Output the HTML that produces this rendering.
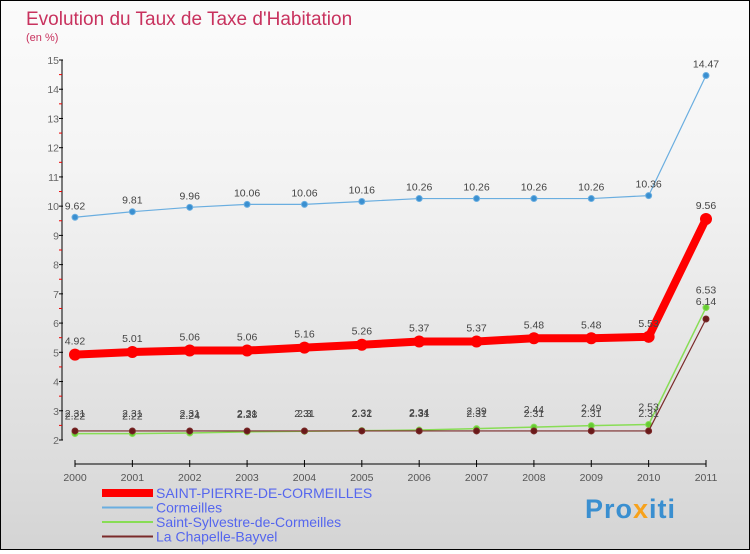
<!DOCTYPE html>
<html><head><meta charset="utf-8"><style>
body{margin:0;width:750px;height:550px;overflow:hidden;font-family:"Liberation Sans",sans-serif}
#wrap{position:relative;width:748px;height:548px;border:1px solid #000;background:linear-gradient(#fbfbfb,#f4f4f4 30%,#dcdcdc 85%,#d4d4d4)}
</style></head><body>
<div id="wrap">
<svg id="chart" width="748" height="548" font-family="Liberation Sans, sans-serif">
<text x="25" y="24" font-size="19" fill="#c8325e" style="font-weight:300">Evolution du Taux de Taxe d'Habitation</text>
<text x="25" y="40" font-size="11" fill="#c8325e">(en %)</text>
<g id="axes"></g><g id="series"></g><g id="legend"></g>
<text x="584" y="517" font-size="27" font-weight="bold" fill="#3a8fd0" letter-spacing="1">Pro<tspan fill="#f7a21c">x</tspan>iti</text>
</svg></div>
<script>
const years=[2000,2001,2002,2003,2004,2005,2006,2007,2008,2009,2010,2011];
const yTicks=[2,3,4,5,6,7,8,9,10,11,12,13,14,15];
const seriesNames=["SAINT-PIERRE-DE-CORMEILLES","Cormeilles","Saint-Sylvestre-de-Cormeilles","La Chapelle-Bayvel"];
const stPierre=[4.92,5.01,5.06,5.06,5.16,5.26,5.37,5.37,5.48,5.48,5.53,9.56];
const cormeilles=[9.62,9.81,9.96,10.06,10.06,10.16,10.26,10.26,10.26,10.26,10.36,14.47];
const stSylvestre=[2.22,2.22,2.24,2.28,2.3,2.32,2.34,2.39,2.44,2.49,2.53,6.53];
const chapelle=[2.31,2.31,2.31,2.31,2.31,2.31,2.31,2.31,2.31,2.31,2.31,6.14];
const NS="http://www.w3.org/2000/svg";
const X=i=>74+i*(631/11);
const Y=v=>439-(v-2)*(380/13);
function el(t,a,p){const e=document.createElementNS(NS,t);for(const k in a)e.setAttribute(k,a[k]);p.appendChild(e);return e;}
const ax=document.getElementById('axes');
let e=el('line',{x1:61,y1:59,x2:61,y2:439,stroke:'#000'},ax);


e=el('line',{x1:74,y1:463,x2:705,y2:463,stroke:'#000'},ax);


yTicks.forEach(v=>{el('line',{x1:58,y1:Y(v),x2:62,y2:Y(v),stroke:'#000'},ax);
 if(v<15)el('line',{x1:58,y1:Y(v+0.5),x2:61,y2:Y(v+0.5),stroke:'#e00'},ax);
 const t=el('text',{x:58,y:Y(v)+4,'font-size':10.5,fill:'#666','text-anchor':'end'},ax);t.textContent=v;
 
 });
years.forEach((y,i)=>{el('line',{x1:X(i),y1:459,x2:X(i),y2:466,stroke:'#000'},ax);
 const t=el('text',{x:X(i),y:480,'font-size':10.5,fill:'#555','text-anchor':'middle'},ax);t.textContent=y;
 
 });
const sg=document.getElementById('series');
function draw(data,color,w,r,dot,name,lblDy){
 const g=el('g',{},sg);
 
 
 el('polyline',{points:data.map((v,i)=>X(i)+','+Y(v)).join(' '),fill:'none',stroke:color,'stroke-width':w,'stroke-linejoin':'round'},g);
 data.forEach((v,i)=>{const c=el('circle',{cx:X(i),cy:Y(v),r:r,fill:dot,stroke:color,'stroke-width':w>3?0:1},g);
  
  
  const t=el('text',{x:X(i),y:Y(v)+lblDy,'font-size':10.5,fill:'#444','text-anchor':'middle'},g);t.textContent=v;
  
  });
}
draw(cormeilles,'#6aaee0',1.2,3,'#3a8fd0','series-cormeilles',-8);
draw(stPierre,'#f00',8,6,'#f00','series-saint-pierre',-10);
draw(stSylvestre,'#88dd55',1.5,3,'#66cc33','series-saint-sylvestre',-14);
draw(chapelle,'#7a2a2a',1.2,3,'#6a1a1a','series-la-chapelle',-14);
const lg=document.getElementById('legend');
const lc=['#f00','#6aaee0','#88dd55','#7a2a2a'],lw=[8,2,2,2];
seriesNames.forEach((n,i)=>{const y=492+i*14.5;
 const g=el('g',{},lg);
 
 
 el('line',{x1:101,y1:y,x2:152,y2:y,stroke:lc[i],'stroke-width':lw[i]},g);
 const t=el('text',{x:155,y:y+5,'font-size':14,fill:'#5566ee'},g);t.textContent=n;});
</script>
</body></html>
